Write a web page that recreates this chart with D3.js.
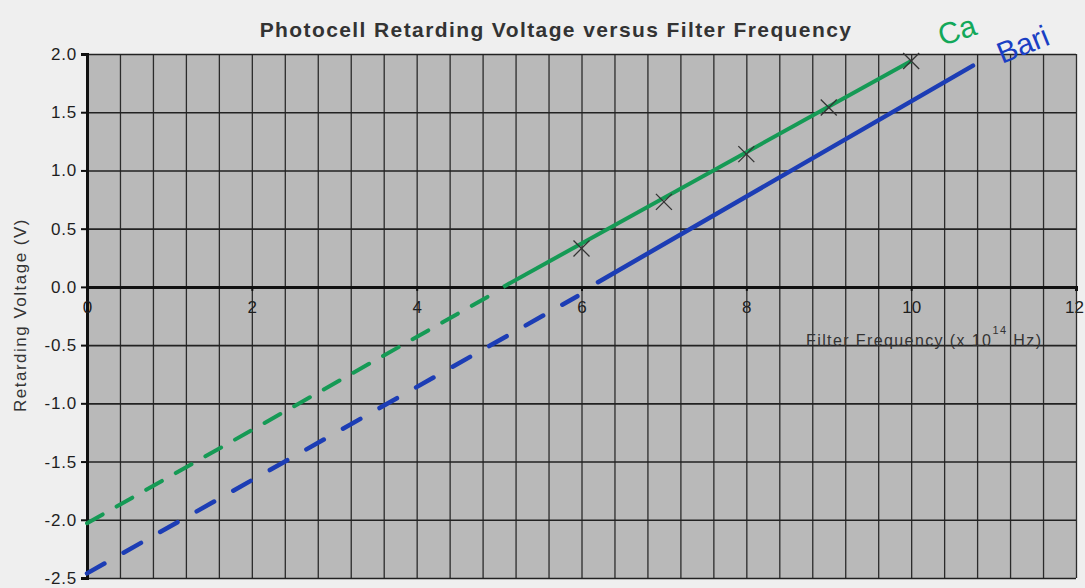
<!DOCTYPE html>
<html>
<head>
    <meta charset="utf-8">
    <title>Photocell Retarding Voltage versus Filter Frequency</title>
    <script src="https://d3js.org/d3.v7.min.js"></script>
    <style>
        body {
            margin: 0;
            padding: 0;
            background-color: #efefef;
            font-family: "Liberation Sans", Arial, sans-serif;
        }
    </style>
</head>
<body>
    <div id="chart"></div>
    <script>
        // Green: measured points (frequency x10^14 Hz, voltage V)
        const greenFreq = [6, 7, 8, 9, 10];
        const greenVolt = [0.33, 0.73, 1.14, 1.54, 1.94];
        // Fitted lines: solid part and dashed extrapolation (endpoints)
        const greenSolidX = [5.05, 10];
        const greenSolidY = [0.0, 1.94];
        const greenDashX = [0, 5.0];
        const greenDashY = [-2.03, -0.03];
        const blueSolidX = [6.2, 10.75];
        const blueSolidY = [0.04, 1.9];
        const blueDashX = [0, 5.95];
        const blueDashY = [-2.46, -0.08];

        const xTicks = [0, 2, 4, 6, 8, 10, 12];
        const yTicks = [2.0, 1.5, 1.0, 0.5, 0.0, -0.5, -1.0, -1.5, -2.0, -2.5];

        const W = 1085, H = 588;
        const margin = { top: 54, right: 9, bottom: 10, left: 87 };
        const width = W - margin.left - margin.right;
        const height = H - margin.top - margin.bottom;

        const svg = d3.select("#chart").append("svg")
            .attr("width", W)
            .attr("height", H);

        const g = svg.append("g")
            .attr("transform", `translate(${margin.left},${margin.top})`);

        const x = d3.scaleLinear().domain([0, 12]).range([0, width]);
        const y = d3.scaleLinear().domain([-2.5, 2.0]).range([height, 0]);

        // plot background
        g.append("rect")
            .attr("width", width)
            .attr("height", height)
            .attr("fill", "#b9b9b9");

        // vertical grid every 0.4
        g.append("g")
            .call(d3.axisBottom(x).tickValues(d3.range(0, 12.01, 0.4)).tickSize(height).tickFormat(""))
            .call(s => s.select(".domain").remove())
            .selectAll("line").attr("stroke", "#2b2b2b").attr("stroke-width", 1.3);

        // horizontal grid every 0.5
        g.append("g")
            .call(d3.axisLeft(y).tickValues(yTicks).tickSize(-width).tickFormat(""))
            .call(s => s.select(".domain").remove())
            .selectAll("line").attr("stroke", "#222").attr("stroke-width", 1.6);

        // y axis
        const yAxis = g.append("g")
            .call(d3.axisLeft(y).tickValues(yTicks).tickSize(6).tickFormat(d => d.toFixed(1)));
        yAxis.select(".domain").attr("stroke", "#111").attr("stroke-width", 3);
        yAxis.selectAll("line").attr("stroke", "#111").attr("stroke-width", 2);
        yAxis.selectAll("text")
            .style("font-size", "17px")
            .style("letter-spacing", "0.8px")
            .style("font-family", "Liberation Sans, Arial, sans-serif")
            .attr("fill", "#1e1e1e")
            .attr("x", -10);

        // x axis on zero line
        const xAxis = g.append("g")
            .attr("transform", `translate(0,${y(0)})`)
            .call(d3.axisBottom(x).tickValues(xTicks).tickSize(4).tickFormat(d => String(d)));
        xAxis.select(".domain").attr("stroke", "#111").attr("stroke-width", 3);
        xAxis.selectAll("line").attr("stroke", "#111").attr("stroke-width", 2);
        xAxis.selectAll("text")
            .style("font-size", "17px")
            .style("font-family", "Liberation Sans, Arial, sans-serif")
            .attr("fill", "#1e1e1e")
            .attr("y", 14)
            .attr("dx", d => d === 12 ? -2 : 0);

        const line = d3.line().x(d => x(d[0])).y(d => y(d[1]));
        const pts = (xs, ys) => xs.map((v, i) => [v, ys[i]]);

        // dashed extrapolations
        g.append("path")
            .attr("d", line(pts(greenDashX, greenDashY)))
            .attr("fill", "none")
            .attr("stroke", "#159a55")
            .attr("stroke-width", 4)
            .attr("stroke-linecap", "round")
            .attr("stroke-dasharray", "18 16");
        g.append("path")
            .attr("d", line(pts(blueDashX, blueDashY)))
            .attr("fill", "none")
            .attr("stroke", "#1c3db5")
            .attr("stroke-width", 4.5)
            .attr("stroke-linecap", "round")
            .attr("stroke-dasharray", "20 22");

        // solid lines
        g.append("path")
            .attr("d", line(pts(greenSolidX, greenSolidY)))
            .attr("fill", "none")
            .attr("stroke", "#159a55")
            .attr("stroke-width", 4);
        g.append("path")
            .attr("d", line(pts(blueSolidX, blueSolidY)))
            .attr("fill", "none")
            .attr("stroke", "#1c3db5")
            .attr("stroke-width", 4.5)
            .attr("stroke-linecap", "round");

        // X markers
        const markers = g.append("g");
        pts(greenFreq, greenVolt).forEach(d => {
            const cx = x(d[0]), cy = y(d[1]), s = 8;
            markers.append("path")
                .attr("d", `M${cx - s},${cy - s}L${cx + s},${cy + s}M${cx - s},${cy + s}L${cx + s},${cy - s}`)
                .attr("stroke", "#333")
                .attr("stroke-width", 1.3);
        });

        // title
        svg.append("text")
            .attr("x", 556)
            .attr("y", 37)
            .attr("text-anchor", "middle")
            .style("font-size", "21px")
            .style("font-weight", "bold")
            .style("letter-spacing", "1.4px")
            .attr("fill", "#333")
            .text("Photocell Retarding Voltage versus Filter Frequency");

        // y label
        svg.append("text")
            .attr("transform", "rotate(-90)")
            .attr("x", -315)
            .attr("y", 26)
            .attr("text-anchor", "middle")
            .style("font-size", "17px")
            .style("letter-spacing", "1.5px")
            .attr("fill", "#333")
            .text("Retarding Voltage (V)");

        // x label with superscript
        const xl = svg.append("text")
            .attr("x", 806)
            .attr("y", 346)
            .style("font-size", "16px")
            .style("letter-spacing", "1.4px")
            .attr("fill", "#333");
        xl.append("tspan").text("Filter Frequency (x 10");
        xl.append("tspan").attr("dy", -12).style("font-size", "11px").text("14");
        xl.append("tspan").attr("dy", 12).text("  Hz)");

        // handwritten notes
        svg.append("text")
            .attr("transform", "translate(942,46) rotate(-18)")
            .style("font-size", "30px")
            .attr("fill", "#13a85a")
            .text("Ca");
        svg.append("text")
            .attr("transform", "translate(1002,64) rotate(-22)")
            .style("font-size", "30px")
            .attr("fill", "#1a3fc4")
            .text("Bari");
    </script>
</body>
</html>
